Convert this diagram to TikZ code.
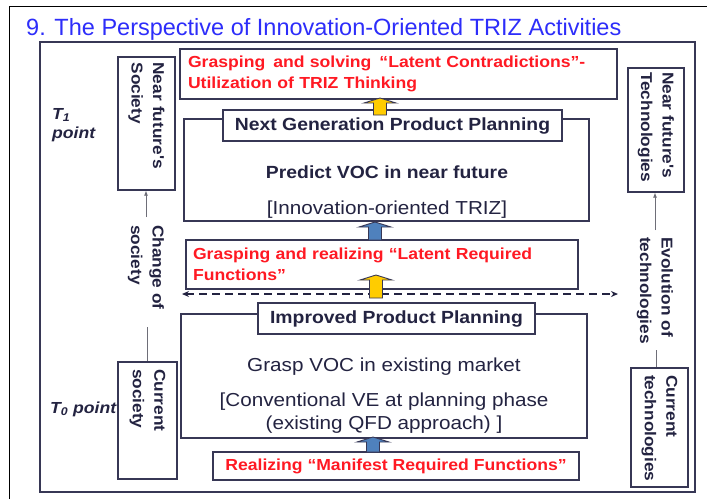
\documentclass[tikz,border=0pt]{standalone}
\usepackage{fontspec}
\usepackage{tikz}
\usetikzlibrary{shapes,arrows.meta,positioning}
\newfontfamily\bodyfont[FakeStretch=1.1]{Liberation Sans}
\newfontfamily\headfont{Liberation Sans}
\definecolor{titleblue}{RGB}{45,45,250}
\definecolor{redtext}{RGB}{255,25,35}
\definecolor{darktext}{RGB}{35,35,65}
\definecolor{boxline}{RGB}{55,55,85}
\definecolor{thingray}{RGB}{110,110,120}
\definecolor{arrowblue}{RGB}{79,129,189}
\definecolor{arrowgold}{RGB}{255,204,0}
\newcommand{\redsize}{\bodyfont\bfseries\fontsize{16}{21.5}\selectfont}
\newcommand{\tabsize}{\bodyfont\bfseries\fontsize{17.6}{21}\selectfont}
\newcommand{\plainsize}{\bodyfont\fontsize{18.8}{23}\selectfont}
\newcommand{\sidesize}{\bodyfont\bfseries\fontsize{15.7}{21.5}\selectfont}
\newcommand{\pointsize}{\bodyfont\bfseries\itshape\fontsize{16}{19}\selectfont}
\tikzstyle{box} = [draw=boxline, line width=1.3pt, fill=white, inner sep=0pt]
\tikzstyle{redbox} = [box, text=redtext, font=\redsize, align=left]
\tikzstyle{tab} = [box, text=darktext, font=\tabsize]
\tikzstyle{textonly} = [draw=none, fill=none, text=darktext, font=\plainsize, inner sep=0pt]
\tikzstyle{sidebox} = [box, rotate=-90, text=darktext, font=\sidesize, align=left]
\tikzstyle{sidetext} = [textonly, rotate=-90, font=\sidesize, align=left]
\tikzstyle{tline} = [draw=thingray, line width=0.8pt]
\tikzstyle{tedge} = [tline, -{Latex[length=5pt,width=4pt]}]
\tikzstyle{dedge} = [draw=darktext, line width=1.3pt, dash pattern=on 8pt off 5pt, {Stealth[length=7pt,width=6pt]}-{Stealth[length=7pt,width=6pt]}]
% block arrow: centre x, bottom y, tip y, fill
\newcommand{\fatarrow}[4]{%
  \draw[draw=boxline, line width=0.9pt, fill=#4] (#1-6.5,#2) -- (#1-6.5,#3+5) -- (#1-16,#3+5) -- (#1,#3) -- (#1+16,#3+5) -- (#1+6.5,#3+5) -- (#1+6.5,#2) -- cycle;}

\begin{document}
\begin{tikzpicture}[x=1pt, y=-1pt]
\useasboundingbox[fill=white] (0,0) rectangle (707,499);

% frame =============================
\draw[black, line width=1pt] (9,499) -- (9,6) -- (707,6);
\node[anchor=base west, text=titleblue, font=\headfont\fontsize{23.5}{28}\selectfont, inner sep=0pt] (title) at (26,35) {9. The Perspective of Innovation-Oriented TRIZ Activities};
\node[box, minimum width=655pt, minimum height=450pt] (frame) at (367.5,267) {};

% time points
\node[textonly, font=\pointsize, align=left, anchor=base west] (tone) at (52,138) {T\textsubscript{1}\\point};
\node[textonly, font=\pointsize, anchor=base west] (tzero) at (50,413) {T\textsubscript{0} point};

% society / technologies
\node[sidebox, minimum width=133pt, minimum height=57pt, text width=122pt] (nfsoc) at (146.5,123.5) {Near future's\\Society};
\node[sidebox, minimum width=117pt, minimum height=59pt, text width=103pt] (cursoc) at (147.5,420.5) {Current\\society};
\node[sidebox, minimum width=124pt, minimum height=56pt, text width=116pt] (nftech) at (656,130) {Near future's\\Technologies};
\node[sidebox, minimum width=119pt, minimum height=57pt, text width=105pt] (curtech) at (659.5,427.5) {Current\\technologies};
\node[sidetext, anchor=west] (chsoc) at (146,225) {Change of\\society};
\node[sidetext, anchor=west] (evtech) at (655,237) {Evolution of\\technologies};

% planning boxes
\node[box, minimum width=405pt, minimum height=102pt] (ngbox) at (386.5,170) {};
\node[tab, minimum width=339pt, minimum height=31pt] (ngtab) at (392.5,125.5) {Next Generation Product Planning};
\node[textonly, font=\tabsize, anchor=base] (predict) at (387,178.5) {Predict VOC in near future};
\node[textonly, anchor=base] (innov) at (387,214.5) {[Innovation-oriented TRIZ]};
\node[redbox, minimum height=50pt, inner xsep=8pt, text width=421pt] (topred) at (398.5,74) {Grasping\, and solving\, “Latent Contradictions”-\\Utilization of TRIZ Thinking};
\node[redbox, minimum height=49pt, inner xsep=7pt, text width=378pt] (midred) at (382,264.5) {Grasping and realizing “Latent Required\\Functions”};

\node[box, minimum width=406pt, minimum height=124pt] (ipbox) at (384,376) {};
\node[tab, minimum width=277pt, minimum height=31pt] (iptab) at (396.5,318.5) {Improved Product Planning};
\node[textonly, anchor=base] (grasp) at (384,371) {Grasp VOC in existing market};
\node[textonly, anchor=base] (conv) at (384,406) {[Conventional VE at planning phase};
\node[textonly, anchor=base] (qfd) at (384,429) {(existing QFD approach) ]};
\node[redbox, minimum width=366pt, minimum height=28pt] (botred) at (396,466) {Realizing “Manifest Required Functions”};

% edges =============================
\coordinate (socup) at (146,217);
\coordinate (socdn) at (147,327);
\coordinate (techup) at (655,230);
\coordinate (techdn) at (656,350);
\draw[tedge] (socup) -- (socup |- nfsoc.east);
\draw[tline] (socdn) -- (socdn |- cursoc.west);
\draw[tedge] (techup) -- (techup |- nftech.east);
\draw[tline] (techdn) -- (techdn |- curtech.west);

\coordinate (dl) at (182,294);
\coordinate (dr) at (618,294);
\draw[dedge] (dl) -- (dr);

\fatarrow{380}{115}{98}{arrowgold}
\fatarrow{375}{240}{222}{arrowblue}
\fatarrow{376}{298}{275}{arrowgold}
\fatarrow{373}{452}{437}{arrowblue}

\end{tikzpicture}
\end{document}
